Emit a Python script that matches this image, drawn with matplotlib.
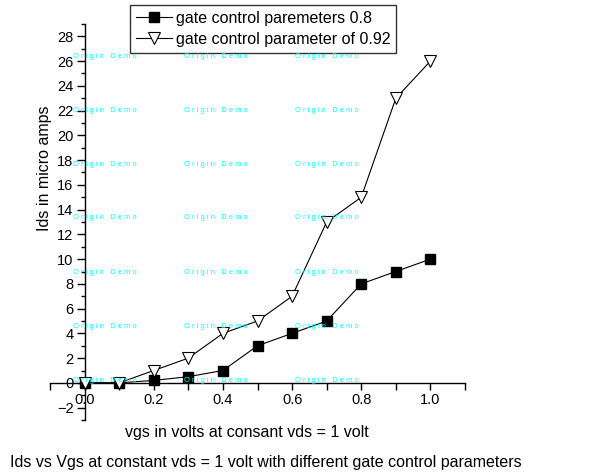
import matplotlib.pyplot as plt
from matplotlib.ticker import MultipleLocator

plt.rcParams['font.family'] = ['Liberation Sans', 'DejaVu Sans']

# data
vgs = [0.0, 0.1, 0.2, 0.3, 0.4, 0.5, 0.6, 0.7, 0.8, 0.9, 1.0]
ids_08 = [0, 0, 0.2, 0.5, 1, 3, 4, 5, 8, 9, 10]
ids_092 = [0, 0, 1, 2, 4, 5, 7, 13, 15, 23, 26]
labels = ["gate control paremeters 0.8", "gate control parameter of 0.92"]

fig = plt.figure(figsize=(6.09, 4.76), dpi=100)
ax = fig.add_axes([50 / 609, 56 / 476, 415 / 609, 396 / 476])

ax.plot(vgs, ids_08, color='black', lw=0.8, marker='s', ms=7,
        mfc='black', mec='black', label=labels[0], zorder=3)
ax.plot(vgs, ids_092, color='black', lw=0.8, marker='v', ms=8.5,
        mfc='white', mec='black', mew=0.8, label=labels[1], zorder=4)

ax.set_xlim(-0.1, 1.1)
ax.set_ylim(-3, 29)
ax.spines['left'].set_position(('data', 0))
ax.spines['bottom'].set_position(('data', 0))
ax.spines['top'].set_visible(False)
ax.spines['right'].set_visible(False)
for s in ('left', 'bottom'):
    ax.spines[s].set_linewidth(1.0)

ax.xaxis.set_minor_locator(MultipleLocator(0.1))
ax.yaxis.set_minor_locator(MultipleLocator(1))
ax.set_xticks([0.0, 0.2, 0.4, 0.6, 0.8, 1.0])
ax.set_xticklabels(['0.0', '0.2', '0.4', '0.6', '0.8', '1.0'])
ax.set_yticks(range(-2, 29, 2))
ax.tick_params(axis='both', which='major', direction='out', length=5,
               width=1, labelsize=10.5, pad=2)
ax.tick_params(axis='both', which='minor', direction='out', length=3, width=1)
ax.tick_params(axis='x', which='both', length=5)
ax.tick_params(axis='y', which='major', length=6)

fig.text(247 / 609, 1 - 433 / 476, "vgs in volts at consant vds = 1 volt",
         ha='center', va='center', fontsize=11.5)
fig.text(44 / 609, 1 - 168 / 476, "Ids in micro amps", rotation=90,
         ha='center', va='center', fontsize=11.5)
fig.text(266 / 609, 1 - 462 / 476,
         "Ids vs Vgs at constant vds = 1 volt with different gate control parameters",
         ha='center', va='center', fontsize=11.5)

# watermark
for yy in [56, 110, 164, 218, 272, 326, 380]:
    for xx in [73, 184, 295]:
        fig.text(xx / 609, 1 - yy / 476, "O r i g i n   D e m o", color='cyan',
                 fontsize=5.4, ha='left', va='center', zorder=10)

leg = fig.legend(loc='upper left', bbox_to_anchor=(130 / 609, 1 - 5 / 476),
                 fontsize=11.5, frameon=True, fancybox=False, edgecolor='black',
                 handlelength=2.25, handletextpad=0.3, borderpad=0.35,
                 labelspacing=0.4, borderaxespad=0)
leg.get_frame().set_linewidth(1.0)

plt.savefig('out.png', dpi=100)
